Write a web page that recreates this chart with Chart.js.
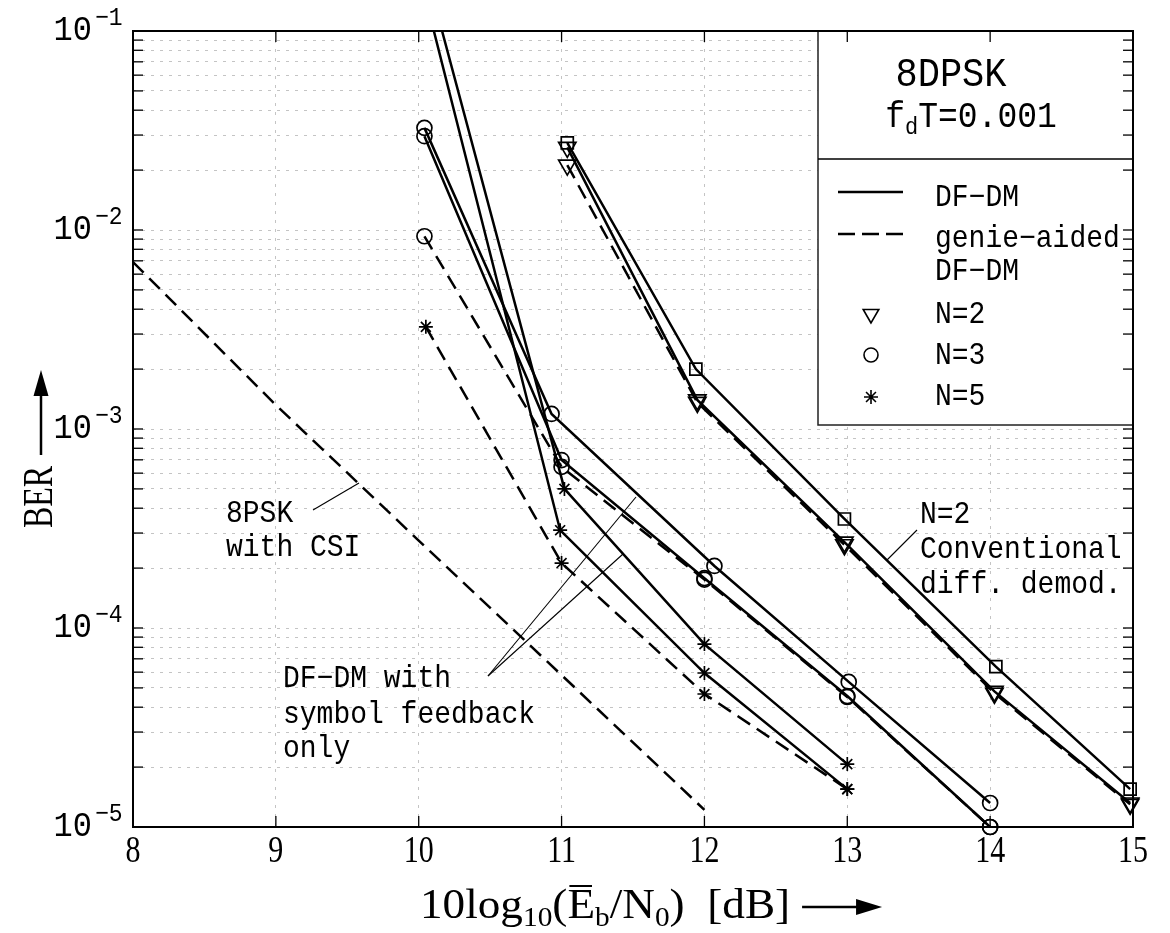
<!DOCTYPE html>
<html><head><meta charset="utf-8">
<script src="https://cdn.jsdelivr.net/npm/chart.js@4.4.1/dist/chart.umd.min.js"></script>
<style>html,body{margin:0;padding:0;background:#fff}#wrap{width:1170px;height:933px}</style>
</head><body><div id="wrap"><canvas id="c" width="1170" height="933"></canvas></div>
<script>
// ---- axis ticks ----
const xTicks = [8, 9, 10, 11, 12, 13, 14, 15];
const yDecades = [1e-1, 1e-2, 1e-3, 1e-4, 1e-5];
const yExponents = ['\u22121', '\u22122', '\u22123', '\u22124', '\u22125'];
const yMantissas = [1, 2, 3, 4, 5, 6, 7, 8, 9];

// ---- data (Eb/N0 in dB, BER) ----
const snrPsk = [8, 9, 10, 11, 12];
const berPsk = [6.9e-3, 1.32e-3, 2.75e-4, 5.8e-5, 1.22e-5];

const snrN2conv = [11.04, 11.94, 12.98, 14.04, 14.98];
const berN2conv = [2.74e-2, 2.0e-3, 3.53e-4, 6.4e-5, 1.55e-5];

const snrN2 = [11.04, 11.95, 12.98, 14.03, 14.98];
const berN2dfdm = [2.6e-2, 1.4e-3, 2.7e-4, 4.8e-5, 1.32e-5];
const berN2genie = [2.12e-2, 1.36e-3, 2.62e-4, 4.7e-5, 1.3e-5];

const snrN3sym = [10.04, 10.93, 12.07, 13.01, 14.0];
const berN3sym = [3.26e-2, 1.19e-3, 2.05e-4, 5.36e-5, 1.32e-5];

const snrN3 = [10.04, 11.0, 12.0, 13.0, 14.0];
const berN3dfdm = [2.96e-2, 6.98e-4, 1.78e-4, 4.55e-5, 1.0e-5];
const berN3genie = [9.3e-3, 6.45e-4, 1.75e-4, 4.5e-5, 1.0e-5];

const snrN5sym = [10.0, 11.02, 12.0, 13.0];
const berN5sym = [0.275, 5.0e-4, 8.3e-5, 2.07e-5];

const snrN5dfdm = [10.0, 10.99, 12.0, 13.0];
const berN5dfdm = [0.20, 3.1e-4, 5.94e-5, 1.55e-5];

const snrN5genie = [10.05, 11.0, 12.0, 13.0];
const berN5genie = [3.26e-3, 2.12e-4, 4.66e-5, 1.55e-5];

// ---- helpers ----
const MONO = '"Liberation Mono", "DejaVu Sans Mono", monospace';
const SERIF = '"Liberation Serif", "DejaVu Serif", serif';
const DASH = [15, 8];

function pts(xs, ys) { return xs.map((x, i) => ({ x: x, y: ys[i] })); }
function ds(label, xs, ys, style, dashed, radius, rot) {
  return {
    label: label, data: pts(xs, ys), showLine: true,
    borderColor: '#000', borderWidth: 2.5, borderDash: dashed ? DASH : [],
    pointStyle: style || 'circle', pointRadius: radius || 0, pointHoverRadius: radius || 0,
    pointRotation: rot || 0, pointBorderColor: '#000', pointBackgroundColor: 'rgba(0,0,0,0)',
    pointBorderWidth: 1.7, tension: 0, fill: false,
    clip: { left: 0, top: 0, right: 14, bottom: 14 }
  };
}
function txt(c, s, x, y, size, family, align, sy, sx) {
  c.save();
  c.font = size + 'px ' + family;
  c.textAlign = align || 'left';
  c.textBaseline = 'alphabetic';
  c.fillStyle = '#000';
  c.translate(x, y);
  c.scale(sx || 1, sy || 1);
  c.fillText(s, 0, 0);
  c.restore();
}
function tw(c, s, size, family) { c.save(); c.font = size + 'px ' + family; const w = c.measureText(s).width; c.restore(); return w; }
function line(c, x1, y1, x2, y2, w, dash) {
  c.save(); c.strokeStyle = '#000'; c.lineWidth = w; c.setLineDash(dash || []);
  c.beginPath(); c.moveTo(x1, y1); c.lineTo(x2, y2); c.stroke(); c.restore();
}
function marker(c, style, x, y, r, rot) {
  c.save(); c.strokeStyle = '#000'; c.fillStyle = 'rgba(0,0,0,0)'; c.lineWidth = 1.6;
  Chart.helpers.drawPoint(c, { pointStyle: style, radius: r, rotation: rot || 0, borderWidth: 1.6 }, x, y);
  c.restore();
}

const yGrid = [];
yDecades.slice().reverse().forEach(d => { if (d < 1e-1) yMantissas.forEach(m => yGrid.push(m * d)); });
yGrid.push(1e-1);

const deco = {
  id: 'deco',
  beforeDraw(chart) {
    const c = chart.ctx; c.save(); c.fillStyle = '#fff'; c.fillRect(0, 0, chart.width, chart.height); c.restore();
  },
  afterDraw(chart) {
    const c = chart.ctx, xs = chart.scales.x, ys = chart.scales.y, a = chart.chartArea;
    // legend box
    const lx = 818, lb = 425;
    c.save(); c.fillStyle = '#fff'; c.fillRect(lx, a.top, a.right - lx, lb - a.top); c.restore();
    c.save(); c.strokeStyle = '#222'; c.lineWidth = 1.5; c.strokeRect(lx, a.top, a.right - lx, lb - a.top); c.restore();
    line(c, lx, 159, a.right, 159, 1.5);
    txt(c, '8DPSK', 951, 86, 37, MONO, 'center', 1.1);
    {
      const s1 = 33, s2 = 22;
      const w = tw(c, 'f', s1, MONO) + tw(c, 'd', s2, MONO) + tw(c, 'T=0.001', s1, MONO);
      let x = 971 - w / 2;
      txt(c, 'f', x, 127, s1, MONO, 'left', 1.1); x += tw(c, 'f', s1, MONO);
      txt(c, 'd', x, 134, s2, MONO, 'left', 1.1); x += tw(c, 'd', s2, MONO);
      txt(c, 'T=0.001', x, 127, s1, MONO, 'left', 1.1);
    }
    line(c, 838, 192, 903, 192, 2.5);
    line(c, 838, 234, 903, 234, 2.5, [17, 7]);
    const LS = 28, tx = 935;
    txt(c, 'DF\u2212DM', tx, 206, LS, MONO, 'left', 1.1);
    txt(c, 'genie\u2212aided', tx, 247, LS, MONO, 'left', 1.1);
    txt(c, 'DF\u2212DM', tx, 280, LS, MONO, 'left', 1.1);
    txt(c, 'N=2', tx, 323, LS, MONO, 'left', 1.1);
    txt(c, 'N=3', tx, 364, LS, MONO, 'left', 1.1);
    txt(c, 'N=5', tx, 405, LS, MONO, 'left', 1.1);
    marker(c, 'triangle', 871, 314, 9, 180);
    marker(c, 'circle', 871, 355, 7);
    marker(c, 'star', 871, 397, 7);

    // frame
    c.save(); c.strokeStyle = '#000'; c.lineWidth = 2; c.strokeRect(a.left, a.top, a.right - a.left, a.bottom - a.top); c.restore();
    // ticks
    xTicks.forEach(v => {
      const px = xs.getPixelForValue(v);
      line(c, px, a.bottom, px, a.bottom - 11, 1.3);
      line(c, px, a.top, px, a.top + 11, 1.3);
    });
    yGrid.forEach(v => {
      const py = ys.getPixelForValue(v);
      line(c, a.left, py, a.left + 10, py, 1.3);
      line(c, a.right, py, a.right - 10, py, 1.3);
    });
    // x tick labels
    xTicks.forEach(v => {
      const px = xs.getPixelForValue(v);
      txt(c, String(v), px, 862, 30, SERIF, 'center', 1.25);
    });
    // y tick labels
    yDecades.forEach((v, i) => {
      const py = ys.getPixelForValue(v);
      txt(c, '10', 92, py + 9, 32, MONO, 'right', 1.1);
      txt(c, yExponents[i], 95, py - 6, 23, MONO, 'left', 1.1);
    });
    // y title + arrow
    c.save(); c.translate(52, 497); c.rotate(-Math.PI / 2); c.scale(1, 1.3);
    c.font = '32px ' + SERIF; c.textAlign = 'center'; c.textBaseline = 'alphabetic'; c.fillStyle = '#000';
    c.fillText('BER', 0, 0); c.restore();
    line(c, 41, 455, 41, 392, 2.5);
    c.save(); c.fillStyle = '#000'; c.beginPath(); c.moveTo(41, 370); c.lineTo(33.5, 396); c.lineTo(48.5, 396); c.closePath(); c.fill(); c.restore();
    // x title
    {
      const B = 40, S = 26, base = 918, SX = 1.13;
      const parts = [['10log', B, 0], ['10', S, 8], ['(', B, 0], ['E', B, 0, true], ['b', S, 8], ['/N', B, 0], ['0', S, 8], [')  [dB]', B, 0]];
      let x = 420;
      parts.forEach(p => {
        txt(c, p[0], x, base + p[2], p[1], SERIF, 'left', 1.05, SX);
        const pw = tw(c, p[0], p[1], SERIF) * SX;
        if (p[3]) line(c, x + 2, base - 32, x + pw - 3, base - 32, 2);
        x += pw;
      });
      const ay = 907;
      line(c, x + 12, ay, x + 70, ay, 2.5);
      c.save(); c.fillStyle = '#000'; c.beginPath(); c.moveTo(x + 92, ay); c.lineTo(x + 66, ay - 8); c.lineTo(x + 66, ay + 8); c.closePath(); c.fill(); c.restore();
    }
    // annotations
    const AS = 28;
    txt(c, '8PSK', 226, 522, AS, MONO, 'left', 1.1);
    txt(c, 'with CSI', 226, 556, AS, MONO, 'left', 1.1);
    line(c, 313, 510, 359, 483, 1.1);
    txt(c, 'DF\u2212DM with', 283, 687, AS, MONO, 'left', 1.1);
    txt(c, 'symbol feedback', 283, 723, AS, MONO, 'left', 1.1);
    txt(c, 'only', 283, 757, AS, MONO, 'left', 1.1);
    line(c, 488, 676, 636, 497, 1.1);
    line(c, 488, 676, 623, 554, 1.1);
    txt(c, 'N=2', 920, 523, AS, MONO, 'left', 1.1);
    txt(c, 'Conventional', 920, 558, AS, MONO, 'left', 1.1);
    txt(c, 'diff. demod.', 920, 593, AS, MONO, 'left', 1.1);
    line(c, 917, 530, 887, 560, 1.1);
  }
};

const datasets = [
  ds('8PSK with CSI', snrPsk, berPsk, 'circle', true, 0),
  ds('N=2 conventional', snrN2conv, berN2conv, 'rect', false, 8.5),
  ds('N=2 DF-DM', snrN2, berN2dfdm, 'triangle', false, 10, 180),
  ds('N=2 genie-aided', snrN2, berN2genie, 'triangle', true, 10, 180),
  ds('N=3 symbol feedback only', snrN3sym, berN3sym, 'circle', false, 7.5),
  ds('N=3 DF-DM', snrN3, berN3dfdm, 'circle', false, 7.5),
  ds('N=3 genie-aided', snrN3, berN3genie, 'circle', true, 7.5),
  ds('N=5 symbol feedback only', snrN5sym, berN5sym, 'star', false, 7),
  ds('N=5 DF-DM', snrN5dfdm, berN5dfdm, 'star', false, 7),
  ds('N=5 genie-aided', snrN5genie, berN5genie, 'star', true, 7)
];

new Chart(document.getElementById('c'), {
  type: 'scatter',
  data: { datasets: datasets },
  options: {
    responsive: false, animation: false,
    layout: { padding: { left: 133, right: 37, top: 31, bottom: 106 } },
    plugins: { legend: { display: false }, tooltip: { enabled: false } },
    scales: {
      x: {
        type: 'linear', min: 8, max: 15,
        afterBuildTicks: s => { s.ticks = xTicks.map(v => ({ value: v })); },
        afterFit: s => { s.height = 0; },
        ticks: { display: false },
        grid: { color: '#c4c4c4', lineWidth: 1, drawTicks: false },
        border: { display: false, dash: [3, 6] }
      },
      y: {
        type: 'logarithmic', min: 1e-5, max: 1e-1,
        afterBuildTicks: s => { s.ticks = yGrid.map(v => ({ value: v })); },
        afterFit: s => { s.width = 0; },
        ticks: { display: false },
        grid: { color: '#c4c4c4', lineWidth: 1, drawTicks: false },
        border: { display: false, dash: [3, 6] }
      }
    }
  },
  plugins: [deco]
});
</script>
</body></html>
